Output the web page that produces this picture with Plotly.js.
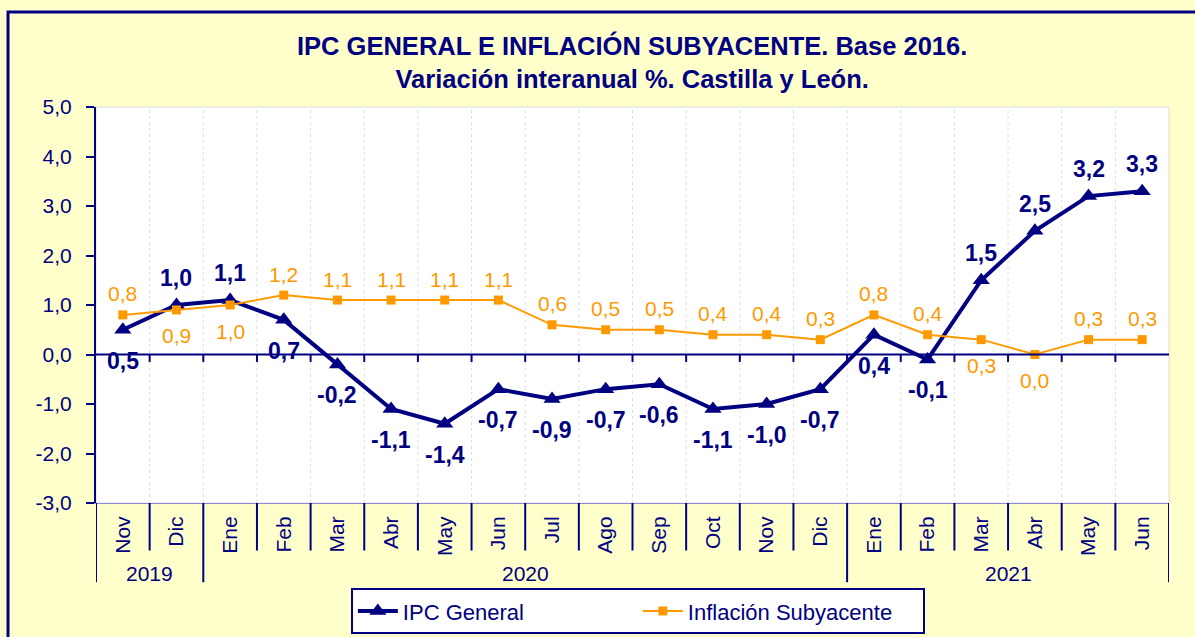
<!DOCTYPE html>
<html>
<head>
<meta charset="utf-8">
<script src="https://cdn.plot.ly/plotly-3.0.1.min.js"></script>
<style>html,body{margin:0;padding:0;background:#FFFFCC;}#chart{width:1195px;height:637px;}</style>
</head>
<body>
<div id="chart"></div>
<script>
const months = ["Nov","Dic","Ene","Feb","Mar","Abr","May","Jun","Jul","Ago","Sep","Oct","Nov","Dic","Ene","Feb","Mar","Abr","May","Jun"];
const years = ["2019","2019","2020","2020","2020","2020","2020","2020","2020","2020","2020","2020","2020","2020","2021","2021","2021","2021","2021","2021"];
const ipcGeneral = [0.5,1.0,1.1,0.7,-0.2,-1.1,-1.4,-0.7,-0.9,-0.7,-0.6,-1.1,-1.0,-0.7,0.4,-0.1,1.5,2.5,3.2,3.3];
const subyacente = [0.8,0.9,1.0,1.2,1.1,1.1,1.1,1.1,0.6,0.5,0.5,0.4,0.4,0.3,0.8,0.4,0.3,0.0,0.3,0.3];
const yTickVals = [-3,-2,-1,0,1,2,3,4,5];
const yTickText = ["-3,0","-2,0","-1,0","0,0","1,0","2,0","3,0","4,0","5,0"];
// label side: "a" = above the point, "b" = below
const ipcLabelSide = ["b","a","a","b","b","b","b","b","b","b","b","b","b","b","b","b","a","a","a","a"];
const subLabelSide = ["a","b","b","a","a","a","a","a","a","a","a","a","a","a","a","a","b","b","a","a"];

const NAVY = "#000080";
const ORANGE = "#FF9900";
const FONT = "Liberation Sans, Arial, sans-serif";
const idx = months.map((m,i)=>i);
const fmt = v => v.toFixed(1).replace(".", ",");

const traces = [
  {
    x: idx, y: ipcGeneral, name: "IPC General", type: "scatter", mode: "lines+markers",
    line: {color: NAVY, width: 4},
    marker: {symbol: "triangle-up", size: 15, color: NAVY},
    cliponaxis: false
  },
  {
    x: idx, y: subyacente, name: "Inflación Subyacente", type: "scatter", mode: "lines+markers",
    line: {color: ORANGE, width: 2},
    marker: {symbol: "square", size: 9, color: ORANGE},
    cliponaxis: false
  }
];

const shapes = [];
// outer border
shapes.push({type:"rect", xref:"paper", yref:"paper", x0:-0.082, x1:1.05, y0:-0.4, y1:1.24, line:{color:NAVY, width:3}, fillcolor:"rgba(0,0,0,0)", layer:"below"});
// faint plot frame
shapes.push({type:"rect", xref:"paper", yref:"paper", x0:0, x1:1, y0:0, y1:1, line:{color:"#dcdcdc", width:1}, layer:"below"});
// vertical dotted gridlines at category boundaries
for (let i = 1; i < months.length; i++) {
  shapes.push({type:"line", xref:"x", yref:"paper", x0:i-0.5, x1:i-0.5, y0:0, y1:1, layer:"below", line:{color:"#dddddd", width:1, dash:"dot"}});
}
// zero line
shapes.push({type:"line", xref:"paper", yref:"y", x0:0, x1:1, y0:0, y1:0, line:{color:NAVY, width:2}});
// boundaries: ticks on zero line and separators below plot
for (let i = 0; i <= months.length; i++) {
  const b = i - 0.5;
  const yearBoundary = (i === 0 || i === months.length || years[i] !== years[i-1]);
  if (i > 0 && i < months.length) {
    shapes.push({type:"line", xref:"x", yref:"y", x0:b, x1:b, y0:0, y1:-0.15, line:{color:NAVY, width:2}});
  }
  shapes.push({type:"line", xref:"x", yref:"paper", x0:b, x1:b, y0:0, y1: yearBoundary ? -0.2 : -0.12, line:{color:NAVY, width:2}});
}

const annotations = [];
// data labels
ipcGeneral.forEach((v,i)=>{
  annotations.push({xref:"x", yref:"y", x:i, y:v, text:fmt(v), showarrow:false, yanchor:"middle",
    yshift: ipcLabelSide[i] === "a" ? 27 : -31,
    font:{family:FONT, size:23, color:NAVY, weight:"bold"}});
});
subyacente.forEach((v,i)=>{
  annotations.push({xref:"x", yref:"y", x:i, y:v, text:fmt(v), showarrow:false, yanchor:"middle",
    yshift: subLabelSide[i] === "a" ? 21 : -26,
    font:{family:FONT, size:21, color:ORANGE}});
});
// year labels
const groups = [];
years.forEach((y,i)=>{
  if (!groups.length || groups[groups.length-1].year !== y) groups.push({year:y, start:i, end:i});
  else groups[groups.length-1].end = i;
});
groups.forEach(g=>{
  annotations.push({xref:"x", yref:"paper", x:(g.start+g.end)/2, y:-0.177, text:g.year, showarrow:false,
    font:{family:FONT, size:21, color:NAVY}, yanchor:"middle"});
});

const layout = {
  width: 1195, height: 637,
  paper_bgcolor: "#FFFFCC", plot_bgcolor: "#FFFFFF",
  margin: {l:96, r:26, t:107, b:134, autoexpand: false},
  font: {family: FONT, color: NAVY, size: 21},
  title: {
    text: "IPC GENERAL E INFLACIÓN SUBYACENTE. Base 2016.<br>Variación interanual %. Castilla y León.",
    font: {family: FONT, size: 25.5, color: NAVY, weight: "bold"},
    x: 0.529, xanchor: "center", xref: "container",
    y: 1 - 55/637, yanchor: "middle", yref: "container"
  },
  xaxis: {
    range: [-0.5, months.length - 0.5],
    tickmode: "array", tickvals: idx, ticktext: months, tickangle: -90,
    ticks: "", showline: true, linecolor: "#8c8cd0", linewidth: 1,
    showgrid: false, zeroline: false, ticklabelstandoff: 4,
    tickfont: {family: FONT, size: 21, color: NAVY},
    fixedrange: true
  },
  yaxis: {
    range: [-3, 5], tickmode: "array", tickvals: yTickVals, ticktext: yTickText,
    showline: true, linecolor: NAVY, linewidth: 2,
    ticks: "outside", ticklen: 8, tickwidth: 2, tickcolor: NAVY,
    showgrid: false, zeroline: false, ticklabelstandoff: 10,
    tickfont: {family: FONT, size: 21, color: NAVY},
    fixedrange: true
  },
  showlegend: true,
  legend: {
    orientation: "h", x: 0.505, xanchor: "center", y: -0.215, yanchor: "top",
    bgcolor: "#FFFFFF", bordercolor: NAVY, borderwidth: 2,
    font: {family: FONT, size: 22, color: NAVY},
    itemwidth: 40, entrywidth: 230, traceorder: "normal"
  },
  shapes: shapes,
  annotations: annotations
};

Plotly.newPlot("chart", traces, layout, {displayModeBar:false, staticPlot:true});
</script>
</body>
</html>
